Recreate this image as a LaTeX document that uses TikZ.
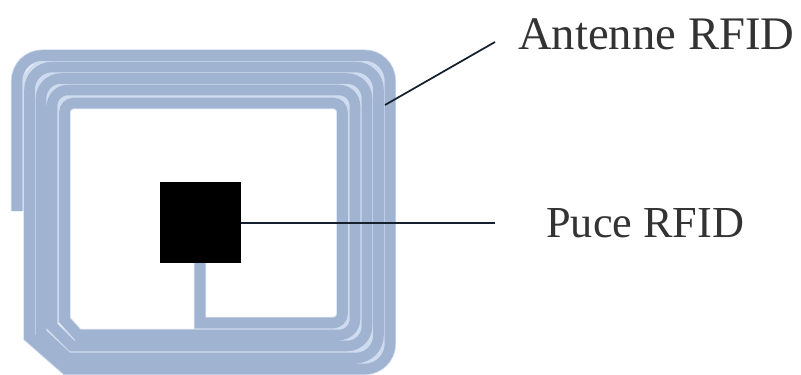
\documentclass[tikz,border=0pt]{standalone}
\usepackage{fontspec}
\setmainfont{Liberation Serif}
\definecolor{coil}{HTML}{A0B3D0}
\definecolor{gapline}{HTML}{CFDCF0}
\definecolor{leader}{HTML}{14202E}
\tikzset{
  spiral/.style={line join=miter},
  leaderline/.style={draw=leader,line width=1.3pt},
  lab/.style={text=black!80,inner sep=0pt}
}
\newcommand{\spiralpath}{%
 (17,211) [rounded corners=19pt] -- (17,55.5) -- (390,55.5) -- (390,369) [sharp corners] -- (66,369) -- (29.5,337)
 [rounded corners=17pt] -- (29.5,67) -- (378.5,67) -- (378.5,358) [sharp corners] -- (68,358) -- (41,333)
 [rounded corners=15pt] -- (41,78.5) -- (367,78.5) -- (367,346) [sharp corners] -- (72,346) -- (52,326)
 [rounded corners=12pt] -- (52,90) -- (355,90) -- (355,335) [sharp corners] -- (78,335) -- (64.5,320)
 [rounded corners=7pt] -- (64.5,103) -- (342.5,103) -- (342.5,323) [sharp corners] -- (200,323) -- (200,262)}
\begin{document}
\begin{tikzpicture}[x=0.75pt,y=-0.75pt]
\useasboundingbox (0,0) rectangle (801,375);
\fill[white] (0,0) rectangle (801,375);
\begin{scope}
\clip (0,0) rectangle (801,375);
\draw[gapline,line width=36pt,rounded corners=15pt] (41,200) -- (41,78.5) -- (367,78.5) -- (367,346) -- (210,346);
\draw[spiral,gapline,line width=9.2pt] \spiralpath;
\draw[spiral,coil,line width=7.9pt] \spiralpath;
\end{scope}
\node[fill=black,minimum width=60.75pt,minimum height=60.75pt,inner sep=0pt] (chip) at (200.5,222.5) {};
\node[lab,anchor=base west,font=\fontsize{35}{38}\selectfont] (ant) at (518,49) {Antenne RFID};
\node[lab,anchor=base west,font=\fontsize{33.2}{36}\selectfont] (puce) at (546,237) {Puce RFID};
\coordinate (coilpoint) at (385,105);
\coordinate (antend) at (495,42);
\coordinate (puceend) at (495,223);
\draw[leaderline] (coilpoint) -- (antend);
\draw[leaderline] (chip.east |- puceend) -- (puceend);
\end{tikzpicture}
\end{document}
